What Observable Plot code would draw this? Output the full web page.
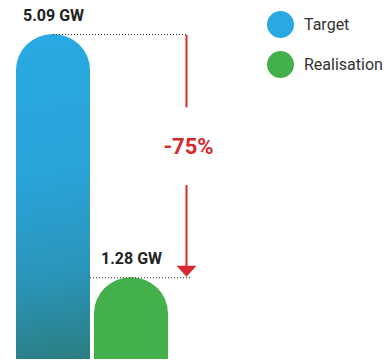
<!DOCTYPE html>
<html>
<head>
<meta charset="utf-8">
<script src="https://cdn.jsdelivr.net/npm/d3@7"></script>
<script src="https://cdn.jsdelivr.net/npm/@observablehq/plot@0.6"></script>
<style>
  html, body { margin: 0; padding: 0; background: #fff; }
  #wrap { position: relative; width: 391px; height: 360px; }
  #legend { position: absolute; left: 267px; top: 11px; font-family: Roboto, sans-serif; font-size: 16px; color: #333; }
  .item { display: flex; align-items: center; height: 27px; margin-bottom: 13px; }
  .swatch { width: 27px; height: 27px; border-radius: 50%; margin-right: 10px; }
</style>
</head>
<body>
<div id="wrap"></div>
<script>
// Installed capacity: target vs. realisation (GW)
const categories = ["Target", "Realisation"];
const capacityGW = [5.09, 1.28];
const barFills = ["url(#target-gradient)", "#44b04b"];
const legendColors = ["#29a9e1", "#44b04b"];
const unit = "GW";

const rows = categories.map((category, i) => ({category, value: capacityGW[i], fill: barFills[i]}));
const [target, realisation] = rows;
const change = (realisation.value - target.value) / target.value;
const changeRow = [{category: "Realisation", mid: (target.value + realisation.value) / 2, label: `${Math.round(change * 100)}%`}];

// Downward triangle whose tip sits on the anchor point
const arrowHead = {
  draw(ctx) {
    ctx.moveTo(-10, -11);
    ctx.lineTo(10, -11);
    ctx.lineTo(0, 0);
    ctx.closePath();
  }
};

const red = "#d52a30";

const gradient = () => {
  const defs = d3.create("svg:defs");
  const g = defs.append("linearGradient")
    .attr("id", "target-gradient")
    .attr("gradientUnits", "userSpaceOnUse")
    .attr("x1", 0).attr("y1", 30).attr("x2", 60).attr("y2", 360);
  [[0, "#29aae3"], [0.45, "#2aa3d8"], [0.75, "#2a95ba"], [1, "#2b7e83"]]
    .forEach(([o, c]) => g.append("stop").attr("offset", o).attr("stop-color", c));
  return defs.node();
};

const chart = Plot.plot({
  width: 391,
  height: 360,
  marginTop: 34,
  marginBottom: 1,
  marginLeft: 0,
  marginRight: 0,
  style: {fontFamily: "Roboto, sans-serif", background: "white"},
  x: {domain: categories, range: [16, 168], paddingInner: 4 / 78, paddingOuter: 0, axis: null},
  y: {domain: [0, d3.max(capacityGW)], axis: null},
  marks: [
    gradient,
    Plot.barY(rows, {x: "category", y: "value", fill: "fill", rx: 37, ry: 36, insetBottom: -40, clip: true}),
    // dotted guides from each bar top to the arrow
    Plot.ruleY([target], {y: "value", x1: () => "Target", x2: () => "Realisation", insetLeft: 37, insetRight: -20, stroke: "#222", strokeDasharray: "1,2"}),
    Plot.ruleY([realisation], {y: "value", x1: () => "Target", x2: () => "Realisation", insetLeft: 74, insetRight: -22, stroke: "#222", strokeDasharray: "1,2"}),
    // value labels
    Plot.text(rows, {x: "category", y: "value", text: d => `${d.value.toFixed(2)} ${unit}`, dy: -19, fontSize: 16, fontWeight: "bold", fill: "#222"}),
    // change arrow
    Plot.ruleX([{category: "Realisation", y1: target.value, y2: realisation.value}], {x: "category", y1: "y1", y2: "y2", dx: 55, insetTop: 1, insetBottom: 170, stroke: red, strokeWidth: 2}),
    Plot.ruleX([{category: "Realisation", y1: target.value, y2: realisation.value}], {x: "category", y1: "y1", y2: "y2", dx: 55, insetTop: 151, insetBottom: 11, stroke: red, strokeWidth: 2}),
    Plot.dot([realisation], {x: "category", y: "value", dx: 55, dy: -1, symbol: arrowHead, fill: red, stroke: "none"}),
    Plot.text(changeRow, {x: "category", y: "mid", text: "label", dx: 57, dy: -9, fontSize: 22, fontWeight: "bold", fill: red})
  ]
});

const wrap = document.getElementById("wrap");
wrap.appendChild(chart);

const legend = document.createElement("div");
legend.id = "legend";
categories.forEach((c, i) => {
  const item = document.createElement("div");
  item.className = "item";
  const sw = document.createElement("span");
  sw.className = "swatch";
  sw.style.background = legendColors[i];
  const label = document.createElement("span");
  label.textContent = c;
  item.append(sw, label);
  legend.appendChild(item);
});
wrap.appendChild(legend);
</script>
</body>
</html>
